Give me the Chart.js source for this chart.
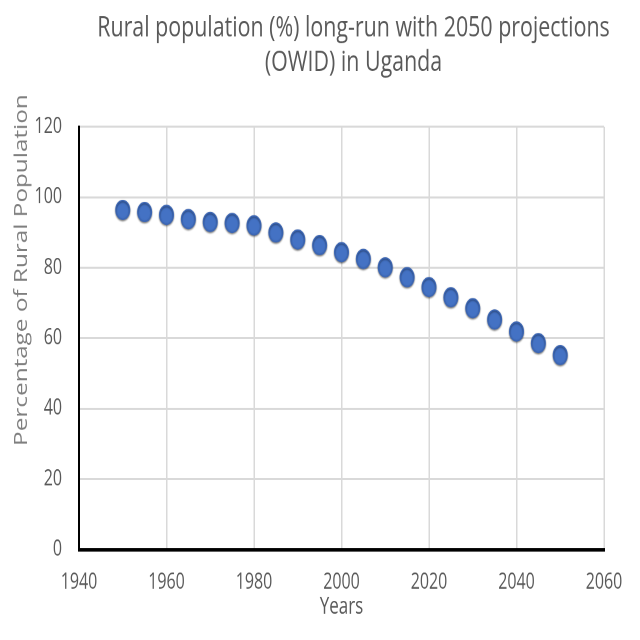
<!DOCTYPE html>
<html lang="en">
<head>
<meta charset="UTF-8">
<title>Rural population Uganda</title>
<script src="https://cdn.jsdelivr.net/npm/chart.js@4.4.0/dist/chart.umd.min.js"></script>
<style>
  html, body { margin: 0; padding: 0; background: #fff; }
  #wrap { width: 640px; height: 640px; overflow: hidden; }
</style>
</head>
<body>
<div id="wrap">
  <!-- drawn at 640x474 and shown stretched to 640x640, like the source image -->
  <canvas id="chart" width="640" height="474" style="width:640px;height:640px"></canvas>
</div>
<script>
const years = [1950, 1955, 1960, 1965, 1970, 1975, 1980, 1985, 1990, 1995, 2000,
               2005, 2010, 2015, 2020, 2025, 2030, 2035, 2040, 2045, 2050]
const ruralPct = [96.4, 95.8, 95.0, 93.8, 93.0, 92.7, 92.0, 90.0, 88.0, 86.4, 84.4,
                  82.5, 80.1, 77.3, 74.5, 71.6, 68.5, 65.3, 61.9, 58.6, 55.2]
const xTicks = [1940, 1960, 1980, 2000, 2020, 2040, 2060]
const yTicks = [0, 20, 40, 60, 80, 100, 120]
const yTitle = 'Percentage of Rural Population'

const points = years.map((y, i) => ({ x: y, y: ruralPct[i] }))

const extras = {
  id: 'extras',
  afterLayout(chart) {
    // title sits a bit right of the plot centre in the original
    chart.titleBlock.left += 12
    chart.titleBlock.right += 12
  },
  beforeDatasetDraw(chart) {
    const c = chart.ctx
    c.save()
    c.shadowColor = 'rgba(0,0,0,0.5)'
    c.shadowBlur = 3
    c.shadowOffsetY = 1.5
  },
  afterDatasetDraw(chart) {
    chart.ctx.restore()
  },
  afterDraw(chart) {
    // y axis title, placed higher than centre as in the original
    const c = chart.ctx
    c.save()
    c.translate(22, 200)
    c.rotate(-Math.PI / 2)
    c.font = '18px "Open Sans"'
    c.fillStyle = '#7f7f7f'
    c.textAlign = 'center'
    c.textBaseline = 'middle'
    c.fillText(yTitle, 0, 0)
    c.restore()
  }
}

const ctx = document.getElementById('chart').getContext('2d')
new Chart(ctx, {
  type: 'scatter',
  data: {
    datasets: [{
      label: 'Rural population (%)',
      data: points,
      pointRadius: 7,
      pointHoverRadius: 7,
      pointBackgroundColor: '#4472c4',
      pointBorderColor: '#3d67b5',
      pointBorderWidth: 1
    }]
  },
  plugins: [extras],
  options: {
    responsive: false,
    animation: false,
    devicePixelRatio: 2,
    layout: { padding: { left: 0, right: 36, top: 8, bottom: 0 } },
    plugins: {
      legend: { display: false },
      tooltip: { enabled: false },
      title: {
        display: true,
        fullSize: false,
        text: ['Rural population (%) long-run with 2050 projections', '(OWID) in Uganda'],
        color: '#595959',
        font: { family: 'Open Sans', size: 21.4, weight: 'normal', lineHeight: 1.2 },
        padding: { top: 0, bottom: 34.5 }
      }
    },
    scales: {
      x: {
        type: 'linear',
        min: 1940,
        max: 2060,
        afterBuildTicks: s => { s.ticks = xTicks.map(v => ({ value: v })) },
        afterFit: s => { s.height = 67 },
        grid: { color: '#d9d9d9', lineWidth: 1.5, drawTicks: false },
        border: { color: '#000', width: 2.5 },
        ticks: {
          color: '#595959', font: { family: 'Open Sans', size: 16 }, padding: 15,
          callback: v => String(v)
        },
        title: {
          display: true, text: 'Years', color: '#595959',
          font: { family: 'Open Sans', size: 17 }, padding: { top: 0, bottom: 14 }
        }
      },
      y: {
        min: 0,
        max: 120,
        afterBuildTicks: s => { s.ticks = yTicks.map(v => ({ value: v })) },
        afterFit: s => { s.width = 79 },
        grid: { color: '#d9d9d9', lineWidth: 1.5, drawTicks: false },
        border: { color: '#000', width: 2 },
        ticks: { color: '#595959', font: { family: 'Open Sans', size: 16 }, padding: 17 }
      }
    }
  }
})
</script>
</body>
</html>
